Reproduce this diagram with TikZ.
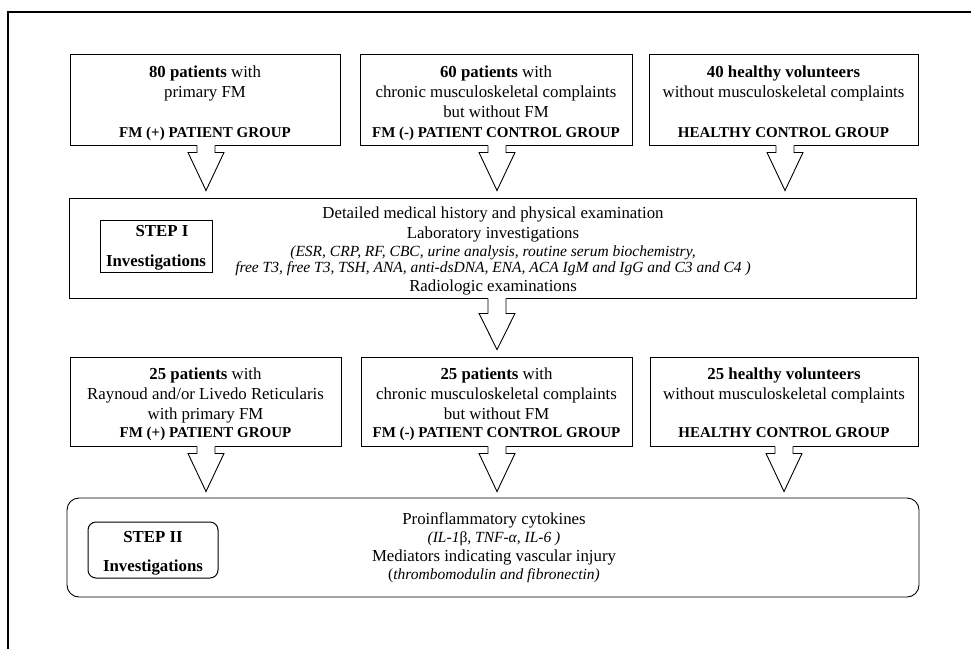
\documentclass[tikz,border=0pt]{standalone}
\usepackage{fontspec}
\setmainfont{Liberation Serif}
\usetikzlibrary{calc}
\tikzset{
  frameline/.style={line width=1.6pt},
  box/.style={draw, line width=0.9pt, inner sep=0pt, fill=white},
  rbox/.style={box, rounded corners=12pt},
  ibox/.style={box, line width=1pt},
  arrowline/.style={line width=0.9pt, line join=miter},
  txt/.style={anchor=base, inner sep=0pt, font=\fontsize{16.8}{20}\selectfont},
  grp/.style={anchor=base, inner sep=0pt, font=\fontsize{15}{18}\selectfont\bfseries},
  itl/.style={anchor=base, inner sep=0pt, font=\fontsize{15.5}{18}\selectfont\itshape},
  stp/.style={anchor=base, inner sep=0pt, font=\fontsize{16.8}{20}\selectfont\bfseries}
}
% #1 source node, #2 target node, #3 x shift, #4 shoulder depth, #5 gap above target
\newcommand{\BArrow}[5]{%
  \coordinate (ba-top) at ($(#1.south)+(#3,0)$);
  \coordinate (ba-tip) at ($(ba-top |- #2.north)+(0,-#5)$);
  \fill[white] ($(ba-top)+(-9,-1.5)$) -- ($(ba-top)+(-9,#4)$) -- ($(ba-top)+(-18,#4)$) -- (ba-tip) -- ($(ba-top)+(18,#4)$) -- ($(ba-top)+(9,#4)$) -- ($(ba-top)+(9,-1.5)$) -- cycle;
  \draw[arrowline] ($(ba-top)+(-9,0)$) -- ($(ba-top)+(-9,#4)$) -- ($(ba-top)+(-18,#4)$) -- (ba-tip) -- ($(ba-top)+(18,#4)$) -- ($(ba-top)+(9,#4)$) -- ($(ba-top)+(9,0)$);
}
\begin{document}
\begin{tikzpicture}[x=1pt,y=-1pt]
\useasboundingbox (0,0) rectangle (971,648);
\fill[white] (0,0) rectangle (971,648);
% outer frame
\coordinate (f1) at (8,660);
\coordinate (f2) at (8,12);
\coordinate (f3) at (980,12);
\draw[frameline] (f1) -- (f2) -- (f3);

% first row
\node[box, minimum width=270, minimum height=91] (b1) at (205,99.5) {};
\node[box, minimum width=272, minimum height=91] (b2) at (496,99.5) {};
\node[box, minimum width=269, minimum height=91] (b3) at (783.5,99.5) {};

% step I
\node[box, minimum width=847, minimum height=100] (s1) at (492.5,248) {};
\node[ibox, minimum width=112, minimum height=52] (i1) at (156,246) {};

% second row
\node[box, minimum width=271, minimum height=89] (c1) at (205.5,401.5) {};
\node[box, minimum width=271, minimum height=89] (c2) at (496.5,401.5) {};
\node[box, minimum width=268, minimum height=89] (c3) at (784,401.5) {};

% step II
\node[rbox, minimum width=852, minimum height=99] (s2) at (493,547.5) {};
\node[ibox, rounded corners=8pt, minimum width=130, minimum height=56] (i2) at (153,550) {};

% block arrows
\BArrow{b1}{s1}{1}{7}{7}
\BArrow{b2}{s1}{1}{7}{7}
\BArrow{b3}{s1}{1.5}{7}{7}
\BArrow{s1}{c2}{4.5}{15}{7}
\BArrow{c1}{s2}{0.5}{7}{6}
\BArrow{c2}{s2}{0.5}{7}{6}
\BArrow{c3}{s2}{0}{7}{6}

% first row texts
\node[txt] (t11) at ($(b1.north)+(0,24)$) {\textbf{80 patients} with};
\node[txt] (t12) at ($(b1.north)+(0,44)$) {primary FM};
\node[grp] (t13) at ($(b1.north)+(0,84)$) {FM (+) PATIENT GROUP};

\node[txt] (t21) at ($(b2.north)+(0,24)$) {\textbf{60 patients} with};
\node[txt] (t22) at ($(b2.north)+(0,44)$) {chronic musculoskeletal complaints};
\node[txt] (t23) at ($(b2.north)+(0,64)$) {but without FM};
\node[grp] (t24) at ($(b2.north)+(0,84)$) {FM (-) PATIENT CONTROL GROUP};

\node[txt] (t31) at ($(b3.north)+(0,24)$) {\textbf{40 healthy volunteers}};
\node[txt] (t32) at ($(b3.north)+(0,44)$) {without musculoskeletal complaints};
\node[grp] (t33) at ($(b3.north)+(0,84)$) {HEALTHY CONTROL GROUP};

% step I texts
\node[stp] (st1) at (162,236) {STEP I};
\node[stp] (st2) at (156,266) {Investigations};
\node[txt] (s11) at ($(s1.north)+(0.5,21)$) {Detailed medical history and physical examination};
\node[txt] (s12) at ($(s1.north)+(0.5,41)$) {Laboratory investigations};
\node[itl] (s13) at ($(s1.north)+(0.5,59)$) {(ESR, CRP, RF, CBC, urine analysis, routine serum biochemistry,};
\node[itl] (s14) at ($(s1.north)+(0.5,75)$) {free T3, free T3, TSH, ANA, anti-dsDNA, ENA, ACA IgM and IgG and C3 and C4 )};
\node[txt] (s15) at ($(s1.north)+(0.5,94)$) {Radiologic examinations};

% second row texts
\node[txt] (u11) at ($(c1.north)+(0,23)$) {\textbf{25 patients} with};
\node[txt] (u12) at ($(c1.north)+(0,43)$) {Raynoud and/or Livedo Reticularis};
\node[txt] (u13) at ($(c1.north)+(0,63)$) {with primary FM};
\node[grp] (u14) at ($(c1.north)+(0,81)$) {FM (+) PATIENT GROUP};

\node[txt] (u21) at ($(c2.north)+(0,23)$) {\textbf{25 patients} with};
\node[txt] (u22) at ($(c2.north)+(0,43)$) {chronic musculoskeletal complaints};
\node[txt] (u23) at ($(c2.north)+(0,63)$) {but without FM};
\node[grp] (u24) at ($(c2.north)+(0,81)$) {FM (-) PATIENT CONTROL GROUP};

\node[txt] (u31) at ($(c3.north)+(0,23)$) {\textbf{25 healthy volunteers}};
\node[txt] (u32) at ($(c3.north)+(0,43)$) {without musculoskeletal complaints};
\node[grp] (u33) at ($(c3.north)+(0,81)$) {HEALTHY CONTROL GROUP};

% step II texts
\node[stp] (st3) at (153,542) {STEP II};
\node[stp] (st4) at (153,571) {Investigations};
\node[txt] (v1) at ($(s2.north)+(1,27)$) {Proinflammatory cytokines};
\node[itl] (v2) at ($(s2.north)+(1,45)$) {(IL-1{\upshape β}, TNF-α, IL-6 )};
\node[txt] (v3) at ($(s2.north)+(1,64)$) {Mediators indicating vascular injury};
\node[itl] (v4) at ($(s2.north)+(1,82)$) {{\upshape(}thrombomodulin and fibronectin)};
\end{tikzpicture}
\end{document}
